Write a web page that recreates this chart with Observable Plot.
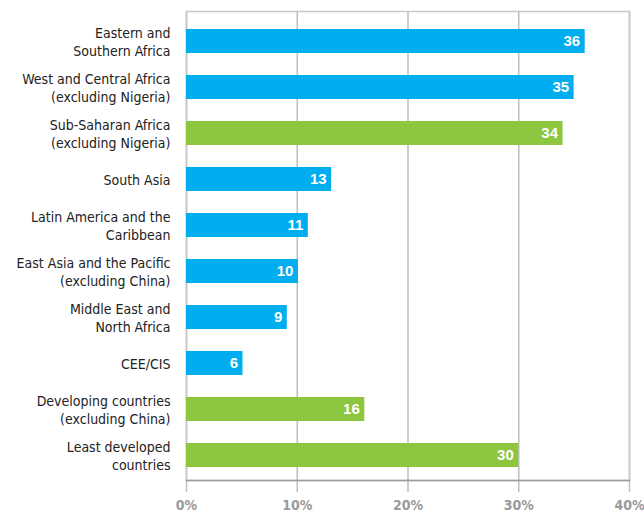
<!DOCTYPE html>
<html><head><meta charset="utf-8">
<script src="https://cdn.jsdelivr.net/npm/d3@7"></script>
<script src="https://cdn.jsdelivr.net/npm/@observablehq/plot@0.6"></script>
<style>
body{margin:0;background:#fff;}
</style>
</head><body>
<div id="chart"></div>
<script>
const categories = [
  "Eastern and\nSouthern Africa",
  "West and Central Africa\n(excluding Nigeria)",
  "Sub-Saharan Africa\n(excluding Nigeria)",
  "South Asia",
  "Latin America and the\nCaribbean",
  "East Asia and the Pacific\n(excluding China)",
  "Middle East and\nNorth Africa",
  "CEE/CIS",
  "Developing countries\n(excluding China)",
  "Least developed\ncountries"
];
// bar lengths as drawn in the picture
const values = [36, 35, 34, 13.1, 11, 10.1, 9.1, 5.1, 16.1, 30];
// value labels as printed on the bars
const valueLabels = ["36", "35", "34", "13", "11", "10", "9", "6", "16", "30"];
const groups = ["region","region","aggregate","region","region","region","region","region","aggregate","aggregate"];
const xTicks = [0, 10, 20, 30, 40];

const data = categories.map((c, i) => ({category: c, value: values[i], label: valueLabels[i], group: groups[i]}));
const font = '"Liberation Sans Narrow", "DejaVu Sans Condensed", "Arial Narrow", sans-serif';

const chart = Plot.plot({
  width: 644,
  height: 515,
  marginLeft: 186,
  marginRight: 15,
  marginTop: 11,
  marginBottom: 35,
  style: {fontFamily: font, fontSize: "14px", color: "#222", background: "#fff"},
  x: {domain: [0, 40], ticks: xTicks},
  y: {domain: categories, range: [13, 482], paddingInner: 0.48, paddingOuter: 0.31},
  color: {domain: ["region", "aggregate"], range: ["#00adee", "#8dc63f"]},
  marks: [
    Plot.gridX(xTicks, {stroke: "#bdbdbd", strokeOpacity: 1, strokeWidth: 1.5}),
    Plot.frame({stroke: "#c8c8c8", strokeWidth: 1.5}),
    Plot.barX(data, {x: "value", y: "category", fill: "group"}),
    Plot.text(data, {x: "value", y: "category", text: "label", textAnchor: "end", dx: -5, fill: "white", fontWeight: "bold", fontSize: 15, fontFamily: '"Liberation Sans", Arial, sans-serif'}),
    Plot.axisY({tickSize: 0, tickPadding: 16, fontSize: 14, lineHeight: 1.3, label: null}),
    Plot.axisX(xTicks, {tickSize: 12, tickPadding: 8, stroke: "#bdbdbd", strokeWidth: 1.5, tickFormat: d => d + "%", fill: "#999", fontWeight: "bold", fontSize: 14, label: null}),
    Plot.frame({anchor: "bottom", stroke: "#9a9a9a", strokeWidth: 1.5})
  ]
});
document.getElementById("chart").appendChild(chart);
</script>
</body></html>
